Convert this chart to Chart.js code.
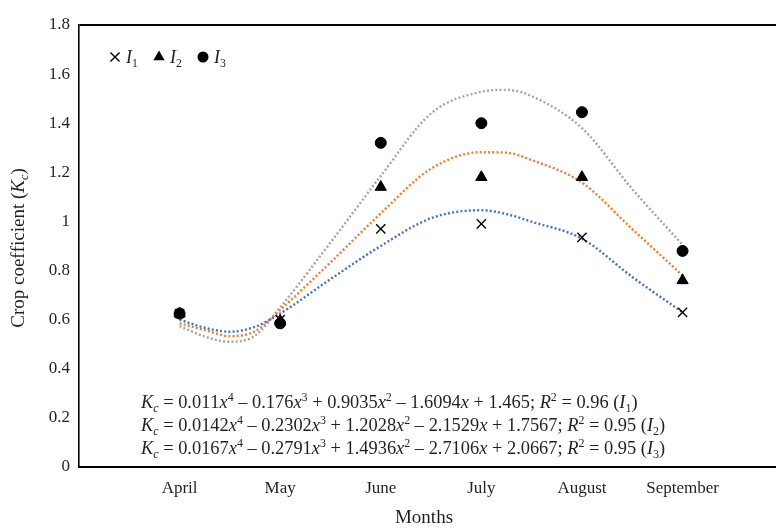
<!DOCTYPE html>
<html>
<head>
<meta charset="utf-8">
<script src="https://cdn.jsdelivr.net/npm/chart.js@4/dist/chart.umd.min.js"></script>
<style>
  html, body { margin: 0; padding: 0; background: #fff; overflow: hidden; }
  #wrap { width: 776px; height: 530px; overflow: hidden; }
</style>
</head>
<body>
<div id="wrap"><canvas id="kc" width="784" height="530"></canvas></div>
<script>
// --- data ---
const months = ['April', 'May', 'June', 'July', 'August', 'September'];
const monthX = [1, 2, 3, 4, 5, 6];
const yTickLabels = ['0', '0.2', '0.4', '0.6', '0.8', '1', '1.2', '1.4', '1.6', '1.8'];

// measured Kc
const kcI1 = [0.625, 0.60, 0.97, 0.99, 0.935, 0.63];
const kcI2 = [0.625, 0.595, 1.14, 1.18, 1.18, 0.76];
const kcI3 = [0.625, 0.585, 1.32, 1.40, 1.445, 0.88];

// trendline traces
const trendX  = [1, 1.25, 1.5, 1.75, 2, 2.5, 3, 3.5, 4, 4.25, 4.5, 5, 5.5, 6];
const trendI1 = [0.60, 0.567, 0.551, 0.571, 0.625, 0.765, 0.90, 1.013, 1.046, 1.03, 0.999, 0.93, 0.774, 0.63];
const trendI2 = [0.585, 0.558, 0.533, 0.553, 0.64, 0.833, 1.033, 1.215, 1.282, 1.28, 1.25, 1.158, 0.969, 0.78];
const trendI3 = [0.574, 0.531, 0.51, 0.535, 0.65, 0.914, 1.185, 1.44, 1.528, 1.536, 1.51, 1.38, 1.132, 0.905];

const seriesNames = ['I_1', 'I_2', 'I_3'];
const eqLines = [
  'K_c = 0.011x^4 – 0.176x^3 + 0.9035x^2 – 1.6094x + 1.465; R^2 = 0.96 (I_1)',
  'K_c = 0.0142x^4 – 0.2302x^3 + 1.2028x^2 – 2.1529x + 1.7567; R^2 = 0.95 (I_2)',
  'K_c = 0.0167x^4 – 0.2791x^3 + 1.4936x^2 – 2.7106x + 2.0667; R^2 = 0.95 (I_3)'
];

const FAMILY = "'Liberation Serif', 'Times New Roman', serif";
const INK = '#231f20';
const trendColors = ['#4472c4', '#ed7d31', '#a5a5a5'];
const markerStyles = ['crossRot', 'triangle', 'circle'];
const markerRadius = [6.5, 6.5, 5.5];

const pts = (xs, ys) => xs.map((x, i) => ({ x: x, y: ys[i] }));

// small rich-text helper: _c subscript, ^4 superscript, K x R I italic
function runsOf(str) {
  const runs = [];
  for (let i = 0; i < str.length; i++) {
    let ch = str[i], mode = 'n';
    if ((ch === '_' || ch === '^') && i + 1 < str.length) {
      mode = ch === '_' ? 'sub' : 'sup';
      ch = str[++i];
    }
    const italic = /[KxRI]/.test(ch) || (mode !== 'n' && /[a-z]/.test(ch));
    runs.push({ ch, mode, italic });
  }
  return runs;
}

function fontFor(run, size) {
  const s = run.mode === 'n' ? size : size * 0.65;
  return (run.italic ? 'italic ' : '') + s + 'px ' + FAMILY;
}

function richWidth(ctx, str, size) {
  let w = 0;
  runsOf(str).forEach(r => { ctx.font = fontFor(r, size); w += ctx.measureText(r.ch).width; });
  return w;
}

function drawRich(ctx, str, x, y, size) {
  ctx.textBaseline = 'alphabetic';
  ctx.textAlign = 'left';
  runsOf(str).forEach(r => {
    ctx.font = fontFor(r, size);
    let dy = 0;
    if (r.mode === 'sub') dy = size * 0.22;
    if (r.mode === 'sup') dy = -size * 0.4;
    ctx.fillText(r.ch, x, y + dy);
    x += ctx.measureText(r.ch).width;
  });
}

function drawMarker(ctx, style, x, y, r) {
  ctx.save();
  ctx.fillStyle = '#000';
  ctx.strokeStyle = '#000';
  ctx.lineWidth = 1.4;
  ctx.beginPath();
  if (style === 'crossRot') {
    const d = r * 0.7;
    ctx.moveTo(x - d, y - d); ctx.lineTo(x + d, y + d);
    ctx.moveTo(x + d, y - d); ctx.lineTo(x - d, y + d);
    ctx.stroke();
  } else if (style === 'triangle') {
    ctx.moveTo(x, y - r);
    ctx.lineTo(x + r * 0.866, y + r * 0.5);
    ctx.lineTo(x - r * 0.866, y + r * 0.5);
    ctx.closePath();
    ctx.fill();
  } else {
    ctx.arc(x, y, r, 0, Math.PI * 2);
    ctx.fill();
  }
  ctx.restore();
}

const annotations = {
  id: 'annotations',
  afterDraw(chart) {
    const ctx = chart.ctx;
    ctx.save();
    ctx.fillStyle = INK;

    // legend in the top-left corner
    let lx = 115;
    const ly = 57;
    seriesNames.forEach((name, i) => {
      drawMarker(ctx, markerStyles[i], lx, ly, markerRadius[i]);
      ctx.fillStyle = INK;
      drawRich(ctx, name, lx + 11, ly + 6, 18);
      lx += 44;
    });

    // trendline equations
    eqLines.forEach((line, i) => drawRich(ctx, line, 141, 408 + i * 23, 18.4));

    // axis titles
    ctx.font = '19px ' + FAMILY;
    ctx.textAlign = 'center';
    ctx.textBaseline = 'alphabetic';
    ctx.fillText('Months', 424, 523);

    const yTitle = 'Crop coefficient (K_c)';
    ctx.translate(24, 248);
    ctx.rotate(-Math.PI / 2);
    drawRich(ctx, yTitle, -richWidth(ctx, yTitle, 19) / 2, 0, 19);
    ctx.restore();
  }
};

const markerSets = [kcI1, kcI2, kcI3].map((vals, i) => ({
  type: 'scatter',
  data: pts(monthX, vals),
  pointStyle: markerStyles[i],
  pointRadius: markerRadius[i],
  pointBorderWidth: i === 0 ? 1.4 : 1,
  pointBackgroundColor: '#000',
  pointBorderColor: '#000',
  showLine: false,
  order: 1
}));

const trendSets = [trendI1, trendI2, trendI3].map((vals, i) => ({
  type: 'line',
  data: pts(trendX, vals),
  borderColor: trendColors[i],
  borderWidth: 2.4,
  borderDash: [2, 2.2],
  cubicInterpolationMode: 'monotone',
  pointRadius: 0,
  fill: false,
  order: 2
}));

new Chart(document.getElementById('kc'), {
  type: 'scatter',
  data: { datasets: markerSets.concat(trendSets) },
  plugins: [annotations],
  options: {
    responsive: false,
    animation: false,
    events: [],
    layout: { padding: { top: 25, right: 0, left: 0, bottom: 0 } },
    plugins: { legend: { display: false }, tooltip: { enabled: false } },
    scales: {
      x: {
        type: 'linear',
        min: 0,
        max: 6.93,
        afterBuildTicks: (s) => { s.ticks = monthX.map(v => ({ value: v })); },
        afterFit: (s) => { s.height = 63; s.paddingLeft = 0; s.paddingRight = 0; },
        ticks: {
          autoSkip: false,
          maxRotation: 0,
          padding: 11,
          color: INK,
          font: { family: FAMILY, size: 17 },
          callback: (v, i) => months[i]
        },
        grid: { display: true, drawTicks: false, color: 'transparent' },
        border: { display: true, color: '#000', width: 2 }
      },
      y: {
        min: 0,
        max: 1.8,
        afterBuildTicks: (s) => { s.ticks = yTickLabels.map(t => ({ value: parseFloat(t) })); },
        afterFit: (s) => { s.width = 79; },
        ticks: {
          padding: 9,
          color: INK,
          font: { family: FAMILY, size: 17 },
          callback: (v, i) => yTickLabels[i]
        },
        grid: {
          drawTicks: false,
          color: (c) => (c.tick && c.tick.value === 1.8 ? '#000' : 'transparent'),
          lineWidth: 2
        },
        border: { display: true, color: '#000', width: 1.6 }
      }
    }
  }
});
</script>
</body>
</html>
